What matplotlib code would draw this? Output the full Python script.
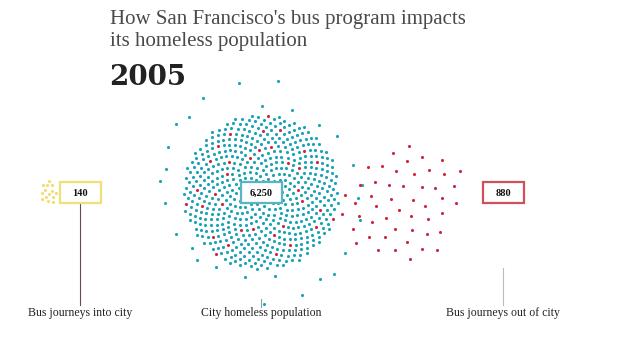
import numpy as np
import matplotlib
matplotlib.use("Agg")
import matplotlib.pyplot as plt
from matplotlib.patches import Rectangle

# data
categories = ["Bus journeys into city", "City homeless population", "Bus journeys out of city"]
totals = [140, 6250, 880]
labels = ["140", "6,250", "880"]
year = "2005"
people_per_dot = 10
out_in_transit = 50      # red dots already drifted out of the cluster in this frame

colors = ["#f2dc6a", "#1aa3b8", "#d0263b"]
box_edges = ["#efe07a", "#5ab5c2", "#d0505c"]
serif = ["Liberation Serif", "DejaVu Serif"]

golden = np.pi * (3 - np.sqrt(5))


def sunflower(n, cx, cy, r, n_loose=0, sy=1.0):
    # deterministic phyllotaxis layout, the last few dots are scattered outwards
    i = np.arange(n) + 0.5
    n_core = n - n_loose
    rad = r * np.sqrt(np.minimum(i, n_core) / n_core)
    h = (i * 0.7548776662) % 1.0
    loose = i > n_core
    rad = np.where(loose, r * (1.08 + 0.4 * h), rad)
    ang = i * golden
    return cx + rad * np.cos(ang), cy + sy * rad * np.sin(ang)


fig = plt.figure(figsize=(6.29, 3.54), dpi=100)
ax = fig.add_axes([0, 0, 1, 1])
ax.set_xlim(0, 629)
ax.set_ylim(354, 0)
ax.axis("off")

# title
ax.text(110, 24, "How San Francisco's bus program impacts", fontsize=15, family=serif,
        color="#4a4a4a", va="baseline")
ax.text(110, 46, "its homeless population", fontsize=15, family=serif,
        color="#4a4a4a", va="baseline")
ax.text(109, 85, year, fontsize=20, family="DejaVu Serif", fontweight="bold",
        color="#222222", va="baseline")

# dots
n_in = totals[0] // people_per_dot
n_city = totals[1] // people_per_dot
n_out = totals[2] // people_per_dot

x, y = sunflower(n_in, 48, 192, 9, sy=1.35)
ax.scatter(x, y, s=5, color=colors[0], lw=0)

x, y = sunflower(n_city, 261, 192, 78, n_loose=28)
idx = np.arange(n_city)
pick = (idx * 0.4142135624 * 17.3) % 1.0
is_out = (pick < 0.07) & (idx < n_city - 40)
is_out[np.where(is_out)[0][n_out - out_in_transit:]] = False
ax.scatter(x[~is_out], y[~is_out], s=5, color=colors[1], lw=0)
ax.scatter(x[is_out], y[is_out], s=5, color=colors[2], lw=0)

x, y = sunflower(out_in_transit, 402, 204, 60)
x = x + 8 * np.sin((y - 140) / 18)
ax.scatter(x, y, s=5, color=colors[2], lw=0)

# value boxes
box_x = [80, 261, 503]
for bx, lab, ec in zip(box_x, labels, box_edges):
    ax.add_patch(Rectangle((bx - 20.5, 182), 41, 21, fc="white", ec=ec, lw=1.6, zorder=3))
    ax.text(bx, 193, lab, ha="center", va="center", fontsize=7.5, family=serif,
            fontweight="bold", color="#111111", zorder=4)

# leader lines and labels
ax.plot([80, 80], [203, 305], color="#6b4a4a", lw=0.8)
ax.plot([261, 261], [299, 307], color="#999999", lw=0.8)
ax.plot([503, 503], [268, 305], color="#bbbbbb", lw=0.8)
for bx, cat in zip(box_x, categories):
    ax.text(bx, 316, cat, ha="center", va="baseline", fontsize=8.5, family=serif,
            color="#222222")

fig.savefig("out.png", dpi=100)
